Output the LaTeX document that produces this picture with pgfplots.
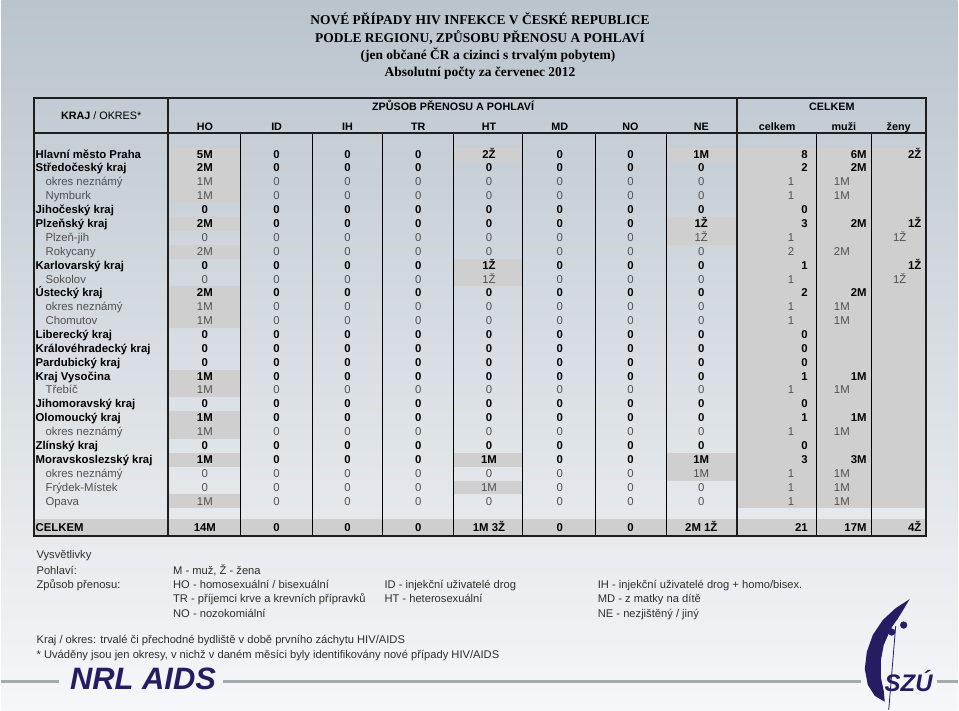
\documentclass[border=0pt]{standalone}
\usepackage{pgfplots}
\pgfplotsset{compat=1.18}
\usepackage{pgfplotstable}
\usepackage{fontspec}
\setmainfont{Liberation Sans}
\newfontfamily\titlefont{Liberation Serif}

\definecolor{bgtop}{RGB}{186,196,205}
\definecolor{bgmid}{RGB}{216,222,229}
\definecolor{bgbot}{RGB}{245,247,249}
\definecolor{cellgray}{RGB}{207,207,207}
\definecolor{okresgray}{RGB}{80,80,80}
\definecolor{legtext}{RGB}{45,45,45}
\definecolor{navy}{RGB}{38,28,98}
\definecolor{rulegray}{RGB}{165,170,176}
\definecolor{framec}{RGB}{30,30,30}

% kraje (tucne): y, nazev, HO ID IH TR HT MD NO NE, celkem, muzi, zeny
\pgfplotstableread[col sep=semicolon]{
y;name;HO;ID;IH;TR;HT;MD;NO;NE;tot;muzi;zeny
155.0;Hlavní město Praha;5M;0;0;0;2Ž;0;0;1M;8;6M;2Ž
168.9;Středočeský kraj;2M;0;0;0;0;0;0;0;2;2M;{}
210.7;Jihočeský kraj;0;0;0;0;0;0;0;0;0;{};{}
224.6;Plzeňský kraj;2M;0;0;0;0;0;0;1Ž;3;2M;1Ž
266.4;Karlovarský kraj;0;0;0;0;1Ž;0;0;0;1;{};1Ž
294.2;Ústecký kraj;2M;0;0;0;0;0;0;0;2;2M;{}
336.0;Liberecký kraj;0;0;0;0;0;0;0;0;0;{};{}
349.9;Královéhradecký kraj;0;0;0;0;0;0;0;0;0;{};{}
363.8;Pardubický kraj;0;0;0;0;0;0;0;0;0;{};{}
377.7;Kraj Vysočina;1M;0;0;0;0;0;0;0;1;1M;{}
405.6;Jihomoravský kraj;0;0;0;0;0;0;0;0;0;{};{}
419.5;Olomoucký kraj;1M;0;0;0;0;0;0;0;1;1M;{}
447.3;Zlínský kraj;0;0;0;0;0;0;0;0;0;{};{}
461.2;Moravskoslezský kraj;1M;0;0;0;1M;0;0;1M;3;3M;{}
530.0;CELKEM;14M;0;0;0;1M 3Ž;0;0;2M 1Ž;21;17M;4Ž
}\kraje

% okresy (obycejne, sede)
\pgfplotstableread[col sep=semicolon]{
y;name;HO;ID;IH;TR;HT;MD;NO;NE;tot;muzi;zeny
182.8;okres neznámý;1M;0;0;0;0;0;0;0;1;1M;{}
196.8;Nymburk;1M;0;0;0;0;0;0;0;1;1M;{}
238.5;Plzeň-jih;0;0;0;0;0;0;0;1Ž;1;{};1Ž
252.4;Rokycany;2M;0;0;0;0;0;0;0;2;2M;{}
280.3;Sokolov;0;0;0;0;1Ž;0;0;0;1;{};1Ž
308.1;okres neznámý;1M;0;0;0;0;0;0;0;1;1M;{}
322.0;Chomutov;1M;0;0;0;0;0;0;0;1;1M;{}
391.6;Třebíč;1M;0;0;0;0;0;0;0;1;1M;{}
433.4;okres neznámý;1M;0;0;0;0;0;0;0;1;1M;{}
475.2;okres neznámý;0;0;0;0;0;0;0;1M;1;1M;{}
489.1;Frýdek-Místek;0;0;0;0;1M;0;0;0;1;1M;{}
503.0;Opava;1M;0;0;0;0;0;0;0;1;1M;{}
}\okresy

\pgfplotstableread[col sep=semicolon]{
x;y;t
453;107;ZPŮSOB PŘENOSU A POHLAVÍ
833;107;CELKEM
204;127;HO
276;127;ID
347;127;IH
418;127;TR
489;127;HT
560;127;MD
631;127;NO
702;127;NE
778;127;celkem
845;127;muži
900;127;ženy
}\hlavicka

\pgfplotstableread[col sep=semicolon]{
x;y;t
35;557;Vysvětlivky
35;573;Pohlaví:
172;573;M - muž, Ž - žena
35;587;Způsob přenosu:
172;587;HO - homosexuální / bisexuální
384;587;ID - injekční uživatelé drog
598;587;IH - injekční uživatelé drog + homo/bisex.
172;601;TR - příjemci krve a krevních přípravků
384;601;HT - heterosexuální
598;601;MD - z matky na dítě
172;616;NO - nozokomiální
598;616;NE - nezjištěný / jiný
35;642;Kraj / okres: trvalé či přechodné bydliště v době prvního záchytu HIV/AIDS
35;657;* Uváděny jsou jen okresy, v nichž v daném měsíci byly identifikovány nové případy HIV/AIDS
}\vysvetlivky

\newcommand\cell[4]{\addplot[fill=cellgray, draw=none, forget plot] coordinates {(#1,#3) (#2,#3) (#2,#4) (#1,#4)} -- cycle;}

\begin{document}
\begin{tikzpicture}
\begin{axis}[
    scale only axis, width=959pt, height=713pt,
    xmin=0, xmax=959, ymin=0, ymax=713, y dir=reverse,
    axis lines=none, clip=false,
    txt/.style={draw=none, no marks, forget plot, nodes near coords,
        point meta=explicit symbolic,
        nodes near coords style={inner sep=0pt, anchor=center, text=black,
            text height=8.7pt, text depth=1.5pt,
            font=\fontsize{11.4}{13}\selectfont}},
    kv/.style={txt, nodes near coords style={font=\fontsize{11.4}{13}\selectfont\bfseries}},
    ov/.style={txt, nodes near coords style={text=okresgray}},
]
% pozadi
\addplot[draw=none, top color=bgtop, middle color=bgmid, bottom color=bgbot, forget plot]
    coordinates {(0,0) (959,0) (959,713) (0,713)} -- cycle;

% sede bunky
\cell{167}{240}{148.0}{203.7}
\cell{167}{240}{217.6}{231.6}
\cell{167}{240}{245.5}{259.4}
\cell{167}{240}{287.2}{329.0}
\cell{167}{240}{370.8}{398.6}
\cell{167}{240}{412.5}{440.4}
\cell{167}{240}{454.3}{468.2}
\cell{167}{240}{496.0}{510.0}
\cell{453}{523}{148.0}{162.0}
\cell{453}{523}{259.4}{287.2}
\cell{453}{523}{454.3}{468.2}
\cell{453}{523}{482.1}{496.0}
\cell{667}{738}{148.0}{162.0}
\cell{667}{738}{217.6}{245.5}
\cell{667}{738}{454.3}{482.1}
\cell{738}{927}{148.0}{510.0}
\cell{33}{927}{521}{538}

% mrizka
\addplot[black, line width=0.8pt, unbounded coords=jump, forget plot] coordinates {
    (240,133) (240,538) (0,nan) (312,133) (312,538) (0,nan)
    (382,133) (382,538) (0,nan) (453,133) (453,538) (0,nan)
    (523,133) (523,538) (0,nan) (596,133) (596,538) (0,nan)
    (667,133) (667,538) (0,nan) (817,133) (817,538) (0,nan)
    (873,133) (873,538)};
\addplot[framec, line width=2.6pt, unbounded coords=jump, forget plot] coordinates {
    (167,98) (167,538) (0,nan) (738,98) (738,538)};
\addplot[framec, line width=2pt, forget plot] coordinates {(33,133) (927,133)};
\addplot[framec, line width=2pt, forget plot] coordinates {(33,98) (927,98) (927,538) (33,538)} -- cycle;

% nadpis
\addplot[txt, nodes near coords style={text height=9.5pt, text depth=2.5pt,
        font=\titlefont\bfseries\fontsize{13.5}{15}\selectfont}]
    coordinates {(480,21) [{NOVÉ PŘÍPADY HIV INFEKCE V ČESKÉ REPUBLICE}]
                 (480,39) [{PODLE REGIONU, ZPŮSOBU PŘENOSU A POHLAVÍ}]
                 (488,56) [{(jen občané ČR a cizinci s trvalým pobytem)}]
                 (480,73) [{Absolutní počty za červenec 2012}]};

% hlavicka
\addplot[txt, nodes near coords style={font=\fontsize{10.8}{12}\selectfont\bfseries}]
    table[x=x, y=y, meta=t] {\hlavicka};
\addplot[txt, nodes near coords style={font=\fontsize{10.8}{12}\selectfont}]
    coordinates {(100,116) [{\textbf{KRAJ} / OKRES*}]};

% kraje
\addplot[kv, nodes near coords style={anchor=west}] table[x expr=34, y=y, meta=name] {\kraje};
\addplot[kv] table[x expr=204, y=y, meta=HO] {\kraje};
\addplot[kv] table[x expr=276, y=y, meta=ID] {\kraje};
\addplot[kv] table[x expr=347, y=y, meta=IH] {\kraje};
\addplot[kv] table[x expr=418, y=y, meta=TR] {\kraje};
\addplot[kv] table[x expr=489, y=y, meta=HT] {\kraje};
\addplot[kv] table[x expr=560, y=y, meta=MD] {\kraje};
\addplot[kv] table[x expr=631, y=y, meta=NO] {\kraje};
\addplot[kv] table[x expr=702, y=y, meta=NE] {\kraje};
\addplot[kv, nodes near coords style={anchor=east}] table[x expr=809, y=y, meta=tot] {\kraje};
\addplot[kv, nodes near coords style={anchor=east}] table[x expr=868, y=y, meta=muzi] {\kraje};
\addplot[kv, nodes near coords style={anchor=east}] table[x expr=923, y=y, meta=zeny] {\kraje};

% okresy
\addplot[ov, nodes near coords style={anchor=west}] table[x expr=44, y=y, meta=name] {\okresy};
\addplot[ov] table[x expr=204, y=y, meta=HO] {\okresy};
\addplot[ov] table[x expr=276, y=y, meta=ID] {\okresy};
\addplot[ov] table[x expr=347, y=y, meta=IH] {\okresy};
\addplot[ov] table[x expr=418, y=y, meta=TR] {\okresy};
\addplot[ov] table[x expr=489, y=y, meta=HT] {\okresy};
\addplot[ov] table[x expr=560, y=y, meta=MD] {\okresy};
\addplot[ov] table[x expr=631, y=y, meta=NO] {\okresy};
\addplot[ov] table[x expr=702, y=y, meta=NE] {\okresy};
\addplot[ov] table[x expr=792, y=y, meta=tot] {\okresy};
\addplot[ov] table[x expr=843, y=y, meta=muzi] {\okresy};
\addplot[ov] table[x expr=901, y=y, meta=zeny] {\okresy};

% vysvetlivky
\addplot[txt, nodes near coords style={anchor=west, text=legtext, font=\fontsize{11.2}{13}\selectfont}]
    table[x=x, y=y, meta=t] {\vysvetlivky};

% loga
\addplot[rulegray, line width=3pt, unbounded coords=jump, forget plot] coordinates {
    (0,684) (58,684) (0,nan) (222,684) (862,684) (0,nan) (938,684) (959,684)};
\addplot[txt, nodes near coords style={text=navy, text height=22pt, text depth=0pt,
        font=\fontsize{31}{31}\selectfont\bfseries\itshape}]
    coordinates {(142,681) [NRL AIDS]};
\addplot[fill=navy, draw=none, forget plot] coordinates {
    (911,601) (897,610) (884,622) (874,637) (868,654) (866,671) (869,687)
    (876,698) (886,704) (885,693) (882,679) (882,663) (885,647) (892,631) (902,616)} -- cycle;
\addplot[navy, line width=0.8pt, forget plot] coordinates {(897,628) (890,712)};
\addplot[navy, only marks, mark=*, mark size=3.4pt, forget plot] coordinates {(896,619) (905,627) (893,634)};
\addplot[txt, nodes near coords style={text=navy, text height=17pt, text depth=0pt,
        font=\fontsize{24}{24}\selectfont\bfseries\itshape}]
    coordinates {(910,685) [SZÚ]};
\end{axis}
\end{tikzpicture}
\end{document}
